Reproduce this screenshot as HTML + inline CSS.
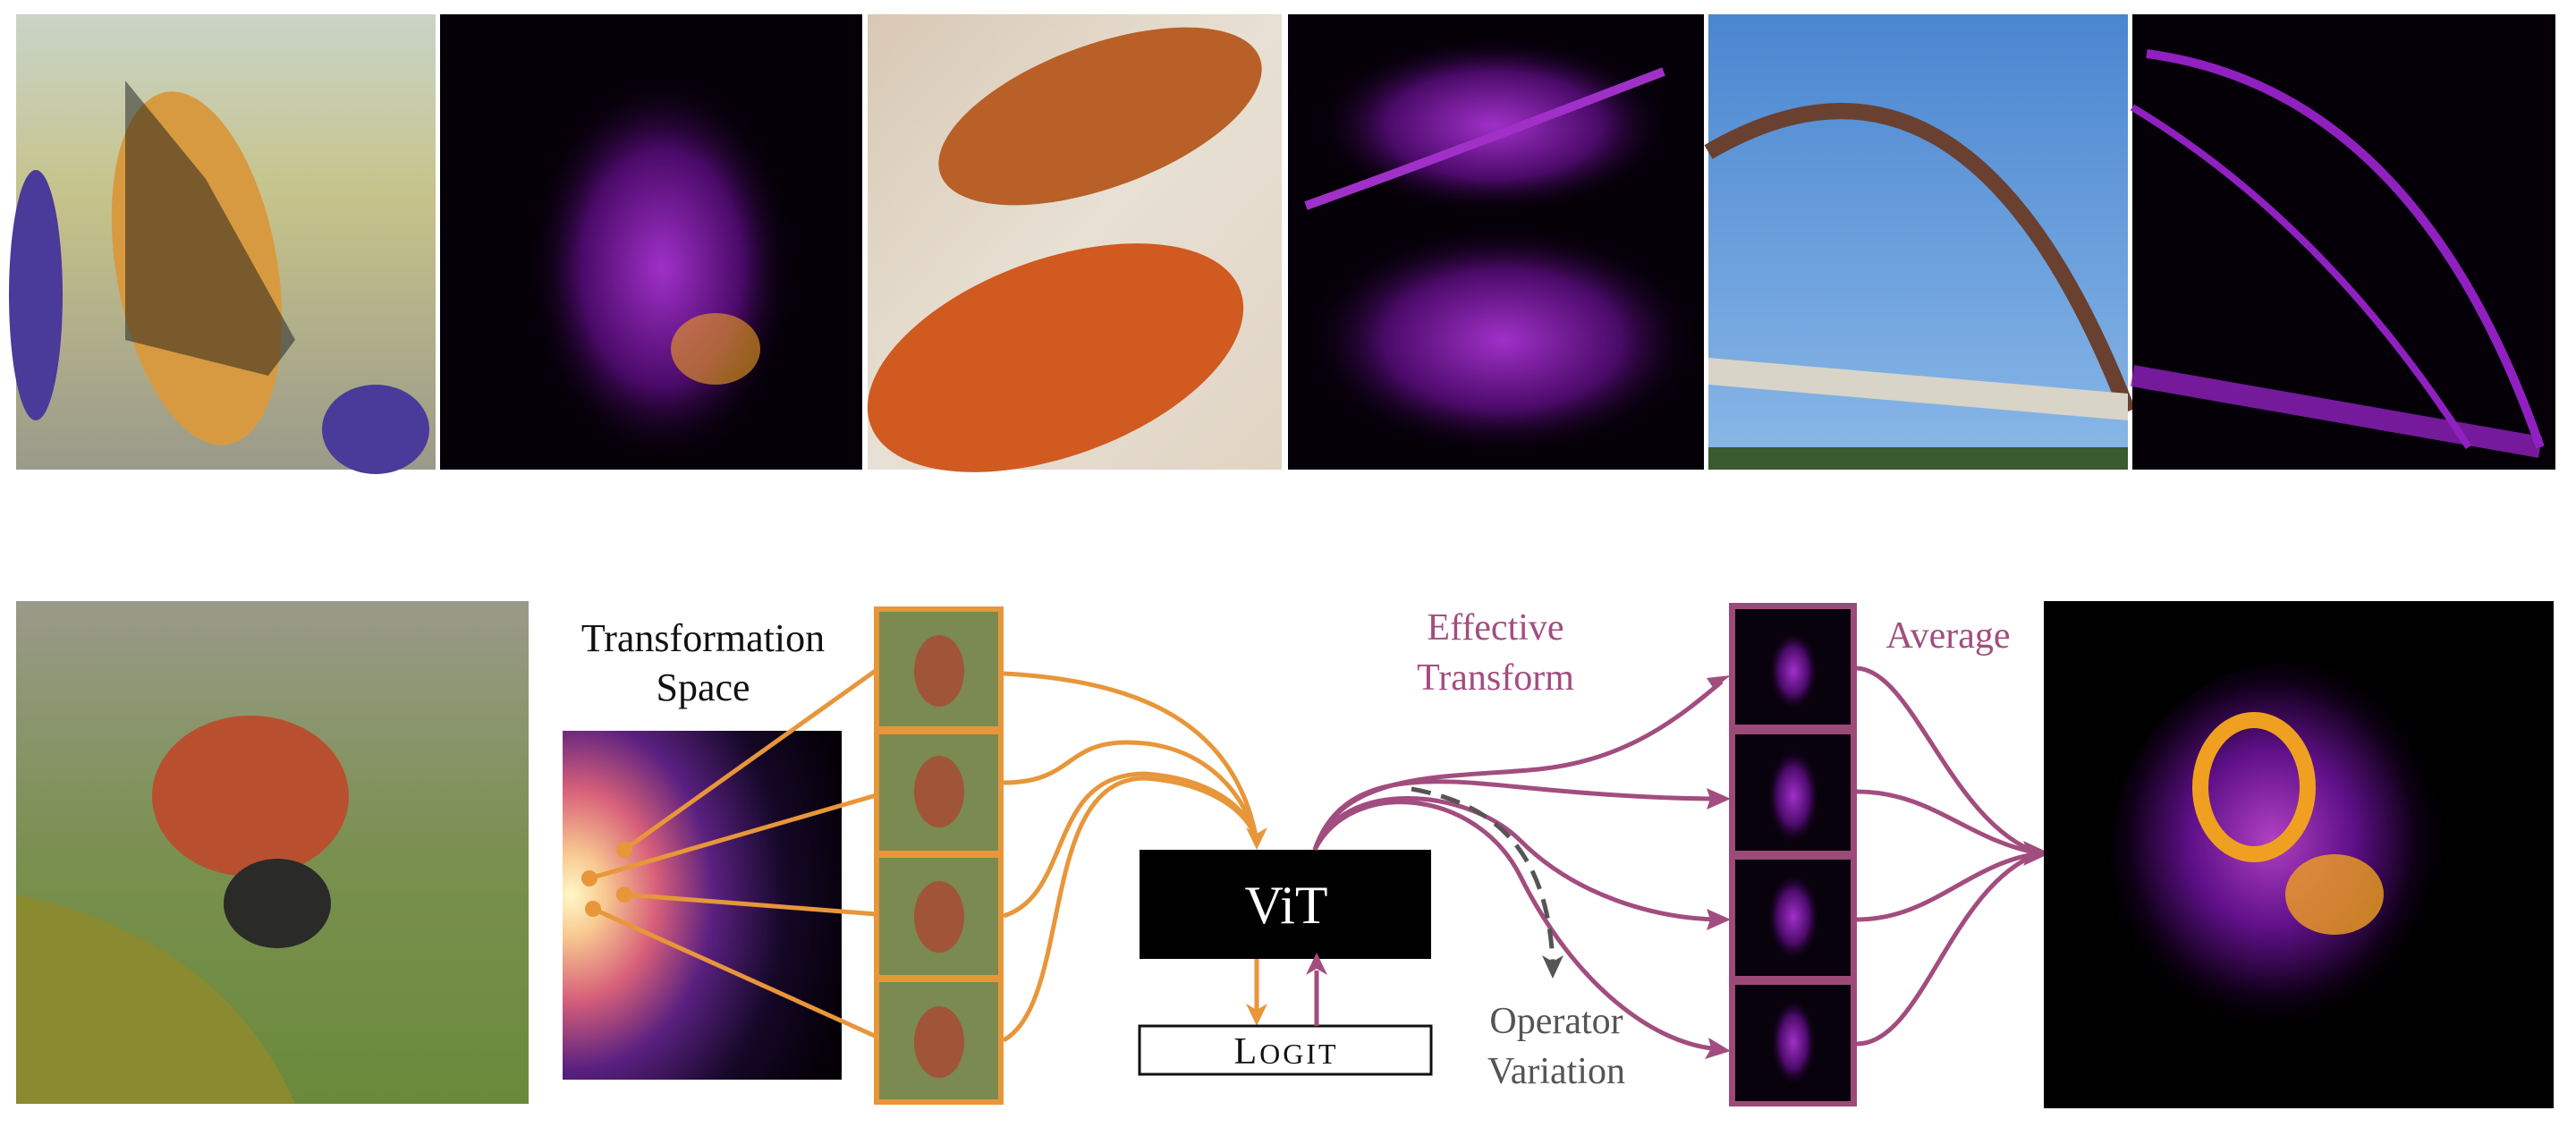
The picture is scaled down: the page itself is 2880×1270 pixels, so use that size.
<!DOCTYPE html>
<html><head><meta charset="utf-8"><style>
html,body{margin:0;padding:0;background:#fff;}
svg{display:block}
svg text{font-family:"Liberation Serif","DejaVu Serif",serif;}
</style></head><body>
<svg width="2880" height="1270" viewBox="0 0 2880 1270" xmlns="http://www.w3.org/2000/svg" font-family="Liberation Serif, serif">
<defs>
<linearGradient id="bfly" x1="0" y1="0" x2="0" y2="1"><stop offset="0" stop-color="#c9d4c8"/><stop offset="0.4" stop-color="#c6c38a"/><stop offset="1" stop-color="#9a9a8a"/></linearGradient>
<radialGradient id="hm1" cx="0.5" cy="0.5" r="0.5"><stop offset="0" stop-color="#a030c8"/><stop offset="0.6" stop-color="#4a0a68"/><stop offset="1" stop-color="#050008" stop-opacity="0"/></radialGradient>
<linearGradient id="viol" x1="0" y1="0" x2="1" y2="1"><stop offset="0" stop-color="#d8c8b4"/><stop offset="0.5" stop-color="#e8e0d4"/><stop offset="1" stop-color="#e0d4c4"/></linearGradient>
<linearGradient id="sky" x1="0" y1="0" x2="0" y2="1"><stop offset="0" stop-color="#4a86d0"/><stop offset="1" stop-color="#8ab8e8"/></linearGradient>
<radialGradient id="tspace" cx="0.05" cy="0.47" r="1.0" fx="0.03" fy="0.47"><stop offset="0" stop-color="#fff8c8"/><stop offset="0.12" stop-color="#f8c890"/><stop offset="0.3" stop-color="#d8607a"/><stop offset="0.5" stop-color="#5a2080"/><stop offset="0.75" stop-color="#150828"/><stop offset="1" stop-color="#050008"/></radialGradient>
<linearGradient id="lady" x1="0" y1="0" x2="0" y2="1"><stop offset="0" stop-color="#9a9a88"/><stop offset="0.5" stop-color="#7a9050"/><stop offset="1" stop-color="#6a8a3a"/></linearGradient>
<radialGradient id="avg" cx="0.45" cy="0.45" r="0.5"><stop offset="0" stop-color="#b040c0"/><stop offset="0.45" stop-color="#60108a"/><stop offset="0.8" stop-color="#100018"/><stop offset="1" stop-color="#000" stop-opacity="0"/></radialGradient>
</defs>

<!-- top row -->
<rect x="18" y="16" width="469" height="509" fill="url(#bfly)"/>
<ellipse cx="220" cy="300" rx="90" ry="200" fill="#d89a40" transform="rotate(-10 220 300)"/>
<path d="M140,90 L230,200 L330,380 L300,420 L140,380z" fill="#1a1a1a" opacity="0.5"/>
<ellipse cx="40" cy="330" rx="30" ry="140" fill="#4a3a9a"/>
<ellipse cx="420" cy="480" rx="60" ry="50" fill="#4a3a9a"/>
<rect x="492" y="16" width="472" height="509" fill="#050008"/>
<ellipse cx="740" cy="300" rx="150" ry="220" fill="url(#hm1)"/>
<ellipse cx="800" cy="390" rx="50" ry="40" fill="#f0a020" opacity="0.6"/>
<rect x="970" y="16" width="463" height="509" fill="url(#viol)"/>
<ellipse cx="1230" cy="130" rx="190" ry="80" fill="#b86028" transform="rotate(-20 1230 130)"/>
<ellipse cx="1180" cy="400" rx="220" ry="110" fill="#d05a20" transform="rotate(-20 1180 400)"/>
<rect x="1440" y="16" width="465" height="509" fill="#050008"/>
<ellipse cx="1670" cy="140" rx="200" ry="100" fill="url(#hm1)"/>
<ellipse cx="1680" cy="380" rx="220" ry="130" fill="url(#hm1)"/>
<path d="M1460,230 Q1600,180 1860,80" stroke="#a030c8" stroke-width="10" fill="none"/>
<rect x="1910" y="16" width="469" height="509" fill="url(#sky)"/>
<path d="M1910,170 Q2200,0 2379,460" stroke="#6a4030" stroke-width="18" fill="none"/>
<path d="M1910,330 Q2200,20 2379,440" stroke="#6a4030" stroke-width="0" fill="none"/>
<path d="M1910,400 L2379,440 L2379,470 L1910,430z" fill="#d8d4c8"/>
<rect x="1910" y="500" width="469" height="25" fill="#3a5a30"/>
<rect x="2384" y="16" width="473" height="509" fill="#050008"/>
<path d="M2400,60 Q2700,100 2840,500" stroke="#9020c0" stroke-width="10" fill="none"/>
<path d="M2384,120 Q2600,250 2760,500" stroke="#9020c0" stroke-width="8" fill="none"/>
<path d="M2384,420 L2840,500" stroke="#9020c0" stroke-width="24" fill="none" opacity="0.8"/>

<!-- ladybug photo -->
<rect x="18" y="672" width="573" height="562" fill="url(#lady)"/>
<ellipse cx="280" cy="890" rx="110" ry="90" fill="#b85030"/>
<ellipse cx="310" cy="1010" rx="60" ry="50" fill="#2a2a28"/>
<path d="M18,1000 Q250,1050 330,1234 L18,1234z" fill="#8a8a30"/>

<!-- transformation space -->
<text x="786" y="728" font-size="44" text-anchor="middle" fill="#111" font-family="Liberation Serif, serif">Transformation</text>
<text x="786" y="783" font-size="44" text-anchor="middle" fill="#111" font-family="Liberation Serif, serif">Space</text>
<rect x="629" y="817" width="312" height="390" fill="url(#tspace)"/>

<g stroke="#e8963a" stroke-width="5" fill="none">
<line x1="698" y1="950" x2="980" y2="749"/>
<line x1="659" y1="982" x2="980" y2="889"/>
<line x1="698" y1="1000" x2="980" y2="1022"/>
<line x1="663" y1="1016" x2="980" y2="1159"/>
</g>
<g fill="#e8963a"><circle cx="698" cy="950" r="9"/><circle cx="659" cy="982" r="9"/><circle cx="698" cy="1000" r="9"/><circle cx="663" cy="1016" r="9"/></g>

<!-- orange strip -->
<rect x="977" y="678" width="145" height="557" fill="#e8963a"/>
<g fill="#7a8a50">
<rect x="983" y="684" width="133" height="128"/>
<rect x="983" y="821" width="133" height="130"/>
<rect x="983" y="959" width="133" height="131"/>
<rect x="983" y="1098" width="133" height="131"/>
</g>
<g fill="#a05538">
<ellipse cx="1050" cy="750" rx="28" ry="40"/><ellipse cx="1050" cy="885" rx="28" ry="40"/><ellipse cx="1050" cy="1025" rx="28" ry="40"/><ellipse cx="1050" cy="1165" rx="28" ry="40"/>
</g>

<g stroke="#e8963a" stroke-width="5" fill="none">
<path d="M1122,753 C1260,760 1380,800 1405,940"/>
<path d="M1122,875 C1200,875 1190,830 1260,830 C1340,830 1390,880 1405,940"/>
<path d="M1122,1024 C1200,1000 1170,865 1280,865 C1350,870 1395,900 1405,940"/>
<path d="M1122,1163 C1200,1120 1160,870 1280,870 C1350,875 1395,905 1405,940"/>
<line x1="1405" y1="1072" x2="1405" y2="1140"/>
</g>
<path d="M1393,925 L1405,950 L1417,925 L1405,932z" fill="#e8963a"/>
<path d="M1393,1122 L1405,1147 L1417,1122 L1405,1129z" fill="#e8963a"/>

<rect x="1274" y="950" width="326" height="122" fill="#000"/>
<text x="1438" y="1032" font-size="60" text-anchor="middle" fill="#fff" font-family="Liberation Serif, serif">ViT</text>
<rect x="1274" y="1147" width="326" height="54" fill="#fff" stroke="#111" stroke-width="3"/>
<text x="1438" y="1189" font-size="42" text-anchor="middle" fill="#111" letter-spacing="3" font-family="Liberation Serif, serif">L<tspan font-size="32">OGIT</tspan></text>

<g stroke="#a24d7f" stroke-width="5" fill="none">
<line x1="1472" y1="1147" x2="1472" y2="1085"/>
<path d="M1470,950 C1500,860 1620,870 1720,860 C1820,850 1880,800 1925,762"/>
<path d="M1470,950 C1500,860 1600,870 1700,880 C1800,890 1870,893 1925,893"/>
<path d="M1470,950 C1500,870 1640,880 1700,940 C1760,1000 1850,1028 1925,1028"/>
<path d="M1470,950 C1510,870 1650,880 1700,980 C1760,1100 1850,1170 1925,1173"/>
<path d="M2076,747 C2140,750 2180,920 2280,954"/>
<path d="M2076,885 C2160,885 2200,940 2280,954"/>
<path d="M2076,1028 C2160,1028 2200,965 2280,954"/>
<path d="M2076,1167 C2150,1167 2180,990 2280,954"/>
</g>
<path d="M1460,1090 L1472,1065 L1484,1090 L1472,1083z" fill="#a24d7f"/>
<g fill="#a24d7f">
<path d="M1935,755 L1908,758 L1916,770z"/>
<path d="M1935,893 L1908,881 L1912,893 L1908,905z"/>
<path d="M1935,1028 L1908,1016 L1912,1028 L1908,1040z"/>
<path d="M1935,1175 L1910,1160 L1913,1172 L1906,1184z"/>
<path d="M2292,954 L2262,940 L2268,954 L2262,968z"/>
</g>
<path d="M1578,882 C1680,900 1730,960 1736,1075" stroke="#555" stroke-width="5" fill="none" stroke-dasharray="22,12"/>
<path d="M1724,1068 L1736,1094 L1748,1068 L1736,1075z" fill="#555"/>

<text x="1672" y="715" font-size="42" text-anchor="middle" fill="#a24d7f" font-family="Liberation Serif, serif">Effective</text>
<text x="1672" y="771" font-size="42" text-anchor="middle" fill="#a24d7f" font-family="Liberation Serif, serif">Transform</text>
<text x="1740" y="1155" font-size="42" text-anchor="middle" fill="#555" font-family="Liberation Serif, serif">Operator</text>
<text x="1740" y="1211" font-size="42" text-anchor="middle" fill="#555" font-family="Liberation Serif, serif">Variation</text>
<text x="2178" y="724" font-size="42" text-anchor="middle" fill="#a24d7f" font-family="Liberation Serif, serif">Average</text>

<rect x="1933" y="674" width="143" height="563" fill="#9c4a78"/>
<g fill="#08020c">
<rect x="1940" y="681" width="129" height="129"/>
<rect x="1940" y="821" width="129" height="130"/>
<rect x="1940" y="961" width="129" height="130"/>
<rect x="1940" y="1101" width="129" height="130"/>
</g>
<g fill="url(#hm1)">
<ellipse cx="2005" cy="750" rx="28" ry="45"/><ellipse cx="2005" cy="890" rx="30" ry="55"/><ellipse cx="2005" cy="1025" rx="30" ry="50"/><ellipse cx="2005" cy="1165" rx="26" ry="50"/>
</g>

<rect x="2285" y="672" width="570" height="567" fill="#000"/>
<ellipse cx="2560" cy="960" rx="200" ry="220" fill="url(#avg)"/>
<ellipse cx="2520" cy="880" rx="60" ry="75" fill="none" stroke="#f0a020" stroke-width="18"/>
<ellipse cx="2610" cy="1000" rx="55" ry="45" fill="#f0a020" opacity="0.8"/>
</svg>
</body></html>
